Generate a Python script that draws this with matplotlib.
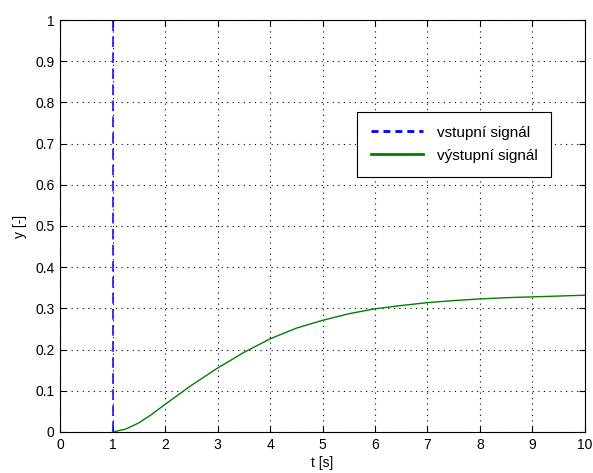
import matplotlib
matplotlib.use('Agg')
import matplotlib.pyplot as plt
import numpy as np

plt.rcParams['font.family'] = ['Liberation Sans', 'DejaVu Sans']

# input pulse at t = 1 s
u_t = [1.0, 1.0]
u_y = [0.0, 1.0]

# output response
t_out = [1.0, 1.25, 1.5, 1.75, 2.0, 2.5, 3.0, 3.5, 4.0, 4.5, 5.0, 5.5,
         6.0, 6.5, 7.0, 7.5, 8.0, 8.5, 9.0, 9.5, 10.0]
y_out = [0.0, 0.007, 0.022, 0.043, 0.067, 0.113, 0.155, 0.193, 0.226, 0.252,
         0.271, 0.287, 0.299, 0.307, 0.314, 0.319, 0.323, 0.326, 0.328, 0.330,
         0.332]

xticks = np.arange(0, 11, 1)
yticks = np.round(np.arange(0, 1.01, 0.1), 1)
ytick_labels = ['0'] + [f'{v:g}' for v in yticks[1:]]

fig = plt.figure(figsize=(5.93, 4.73), dpi=100)
ax = fig.add_axes([0.1012, 0.0867, 0.8853, 0.871])

ax.plot(u_t, u_y, color='blue', linestyle=(0, (7, 3.5)), linewidth=1.1,
        label='vstupní signál')
ax.plot(t_out, y_out, color='green', linewidth=1.0, label='výstupní signál')

ax.set_xlim(0, 10)
ax.set_ylim(0, 1)
ax.set_xticks(xticks)
ax.set_yticks(yticks)
ax.set_yticklabels(ytick_labels)
ax.tick_params(direction='in', top=True, right=True, length=4, width=0.8,
               labelsize=10, pad=4)
ax.grid(True, color='black', linestyle=(0, (1, 4)), linewidth=0.8)
for sp in ax.spines.values():
    sp.set_linewidth(0.8)

ax.set_xlabel('t [s]', fontsize=10, labelpad=3)
ax.set_ylabel('y [-]', fontsize=10, labelpad=6)

leg = ax.legend(loc='upper left', bbox_to_anchor=(0.566, 0.777),
                fontsize=11, frameon=True, fancybox=False, framealpha=1,
                edgecolor='black', handlelength=3.4, handletextpad=0.9,
                borderpad=0.9, labelspacing=0.6, borderaxespad=0)
leg.get_frame().set_linewidth(0.8)
# thicker sample lines in the legend box
leg_lines = leg.get_lines()
leg_lines[0].set_linewidth(2.0)
leg_lines[0].set_linestyle((0, (2.5, 1.8)))
leg_lines[1].set_linewidth(2.0)

fig.savefig('out.png', dpi=100)
